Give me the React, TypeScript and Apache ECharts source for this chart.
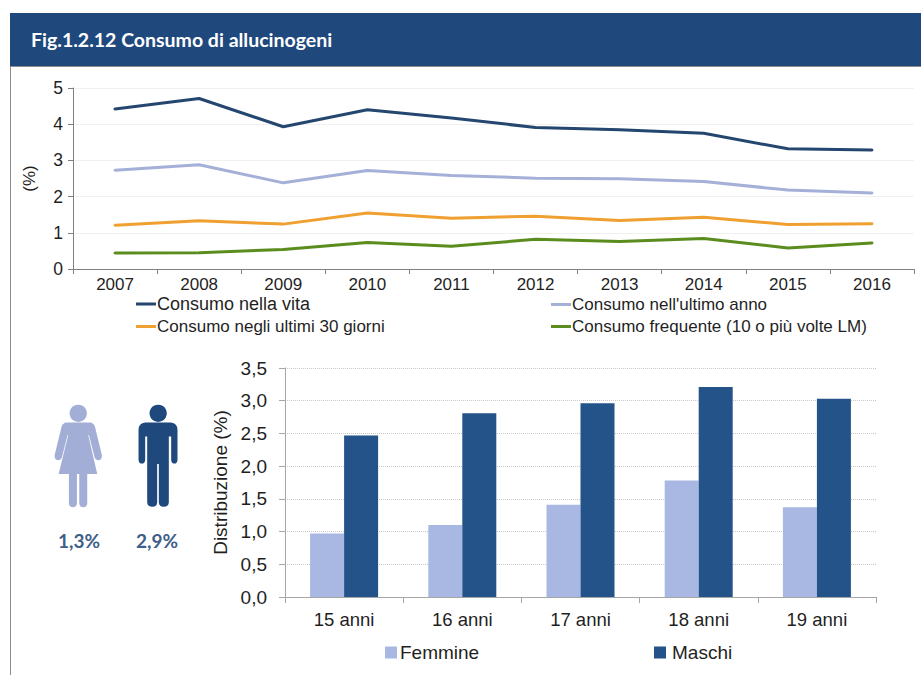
import React, { useEffect, useRef } from "react";
import * as echarts from "echarts";

const years = ["2007", "2008", "2009", "2010", "2011", "2012", "2013", "2014", "2015", "2016"];
const lifetime = [4.42, 4.71, 3.93, 4.4, 4.17, 3.91, 3.85, 3.75, 3.32, 3.29];
const lastYear = [2.73, 2.88, 2.38, 2.72, 2.58, 2.51, 2.49, 2.42, 2.18, 2.1];
const last30 = [1.21, 1.33, 1.24, 1.55, 1.4, 1.46, 1.34, 1.43, 1.23, 1.25];
const frequent = [0.44, 0.45, 0.54, 0.73, 0.63, 0.82, 0.76, 0.84, 0.58, 0.72];
const ages = ["15 anni", "16 anni", "17 anni", "18 anni", "19 anni"];
const females = [0.97, 1.1, 1.41, 1.78, 1.37];
const males = [2.47, 2.81, 2.96, 3.21, 3.03];
const title = "Fig.1.2.12 Consumo di allucinogeni";
const femaleTotal = "1,3%";
const maleTotal = "2,9%";
const lineNames = ["Consumo nella vita", "Consumo nell'ultimo anno", "Consumo negli ultimi 30 giorni", "Consumo frequente (10 o più volte LM)"];
const lineColors = ["#24466F", "#A4B0D8", "#F0A030", "#5B8C1E"];

const FEMALE_D =
  "M 235 74 A 26 26 0 1 1 234.9 74 Z " +
  "M 200 128 L 270 128 Q 281 129 285 140 L 306 226 Q 307 240 296 241 Q 287 241 284 232 L 267 165 L 265 165 L 292 282 L 262 282 L 262 370 Q 261 382 250 382 Q 239 382 238 370 L 238 282 L 231 282 L 231 370 Q 230 382 219 382 Q 208 382 207 370 L 207 282 L 176 282 L 205 165 L 203 165 L 186 232 Q 183 241 174 241 Q 163 240 164 226 L 185 140 Q 189 129 200 128 Z";
const MALE_D =
  "M 475 74 A 26 26 0 1 1 474.9 74 Z " +
  "M 436 128 L 513 128 Q 533 130 533 150 L 533 240 Q 532 251 524 251 Q 515 251 514 240 L 514 170 L 507 170 L 507 368 Q 506 381 491 381 Q 478 381 477 368 L 477 252 L 472 252 L 472 368 Q 471 381 458 381 Q 443 381 442 368 L 442 170 L 436 170 L 436 240 Q 435 251 426 251 Q 417 251 416 240 L 416 150 Q 416 130 436 128 Z";

echarts.graphic.registerShape("womanIcon", (echarts.graphic as any).extendPath(FEMALE_D, {}));
echarts.graphic.registerShape("manIcon", (echarts.graphic as any).extendPath(MALE_D, {}));

const FONT = "'Liberation Sans', Arial, sans-serif";
const TXT = "#1F1F1F";

export default function App() {
  const ref = useRef<HTMLDivElement>(null);
  useEffect(() => {
    document.body.style.margin = "0";
    const chart = echarts.init(ref.current!, undefined, { renderer: "svg" });
    const lineLegend = (i: number, left: number, top: number, fontSize: number) => ({
      data: [lineNames[i]],
      left,
      top,
      orient: "horizontal",
      padding: 0,
      selectedMode: false,
      icon: "rect",
      itemWidth: 20,
      itemHeight: 3,
      textStyle: { fontFamily: FONT, fontSize, color: TXT, padding: [0, 0, 0, -4] },
    });
    const barLegend = (name: string, left: number, textPad: number) => ({
      data: [name],
      left,
      top: 643,
      padding: 0,
      selectedMode: false,
      icon: "rect",
      itemWidth: 12,
      itemHeight: 12,
      itemGap: 0,
      textStyle: { fontFamily: FONT, fontSize: 19, color: TXT, padding: [0, 0, 0, textPad] },
    });
    chart.setOption({
      animation: false,
      backgroundColor: "#ffffff",
      graphic: [
        { type: "rect", shape: { x: 10, y: 13, width: 911, height: 53 }, style: { fill: "#1F497D" } },
        { type: "line", shape: { x1: 10, y1: 66.5, x2: 921, y2: 66.5 }, style: { stroke: "#8C8C8C", lineWidth: 1 } },
        { type: "line", shape: { x1: 10.5, y1: 66, x2: 10.5, y2: 675 }, style: { stroke: "#8C8C8C", lineWidth: 1 } },
        { type: "text", x: 31, y: 39.5, style: { text: title, fill: "#ffffff", font: "bold 19.5px Lato, sans-serif", textVerticalAlign: "middle" } },
        { type: "womanIcon", x: 0, y: 380, scaleX: 1 / 3, scaleY: 1 / 3, style: { fill: "#A3AED6" } },
        { type: "manIcon", x: 0, y: 380, scaleX: 1 / 3, scaleY: 1 / 3, style: { fill: "#1F497D" } },
        { type: "text", x: 79, y: 540, style: { text: femaleTotal, fill: "#3E5F89", font: "bold 19px Lato, sans-serif", textAlign: "center", textVerticalAlign: "middle" } },
        { type: "text", x: 157, y: 540, style: { text: maleTotal, fill: "#3E5F89", font: "bold 19px Lato, sans-serif", textAlign: "center", textVerticalAlign: "middle" } },
      ],
      legend: [
        lineLegend(0, 136, 295, 18),
        lineLegend(1, 551, 296, 17),
        lineLegend(2, 136, 318, 17),
        lineLegend(3, 551, 318, 17),
        barLegend("Femmine", 385, -2),
        barLegend("Maschi", 654, 1),
      ],
      grid: [
        { left: 73, top: 88, width: 841, height: 181, containLabel: false },
        { left: 285, top: 368, width: 591, height: 229, containLabel: false },
      ],
      xAxis: [
        {
          type: "category",
          gridIndex: 0,
          data: years,
          axisLine: { lineStyle: { color: "#808080", width: 1 } },
          axisTick: { show: true, length: 5, lineStyle: { color: "#808080" } },
          axisLabel: { fontFamily: FONT, fontSize: 17, color: TXT, margin: 7 },
        },
        {
          type: "category",
          gridIndex: 1,
          data: ages,
          axisLine: { lineStyle: { color: "#A6A6A6", width: 1 } },
          axisTick: { show: true, length: 6, lineStyle: { color: "#A6A6A6" } },
          axisLabel: { fontFamily: FONT, fontSize: 18.5, color: TXT, margin: 13 },
        },
      ],
      yAxis: [
        {
          type: "value",
          gridIndex: 0,
          min: 0,
          max: 5,
          interval: 1,
          name: "(%)",
          nameLocation: "middle",
          nameGap: 35,
          nameTextStyle: { fontFamily: FONT, fontSize: 17, color: TXT },
          axisLine: { show: true, lineStyle: { color: "#808080" } },
          axisTick: { show: true, length: 5, lineStyle: { color: "#808080" } },
          axisLabel: { fontFamily: FONT, fontSize: 17.5, color: TXT, margin: 10 },
          splitLine: { show: true, lineStyle: { color: "#F0F0F0", width: 1 } },
        },
        {
          type: "value",
          gridIndex: 1,
          min: 0,
          max: 3.5,
          interval: 0.5,
          name: "Distribuzione (%)",
          nameLocation: "middle",
          nameGap: 55,
          nameTextStyle: { fontFamily: FONT, fontSize: 19, color: TXT },
          axisLine: { show: true, lineStyle: { color: "#A6A6A6" } },
          axisTick: { show: true, length: 6, lineStyle: { color: "#A6A6A6" } },
          axisLabel: {
            fontFamily: FONT,
            fontSize: 19,
            color: TXT,
            margin: 18,
            formatter: (v: number) => v.toFixed(1).replace(".", ","),
          },
          splitLine: { show: true, lineStyle: { color: "#C8C8C8", width: 1, type: "dotted" } },
        },
      ],
      series: [
        ...[lifetime, lastYear, last30, frequent].map((data, i) => ({
          type: "line",
          name: lineNames[i],
          xAxisIndex: 0,
          yAxisIndex: 0,
          data,
          symbol: "none",
          lineStyle: { color: lineColors[i], width: 3, cap: "round" },
          itemStyle: { color: lineColors[i] },
        })),
        { type: "bar", name: "Femmine", xAxisIndex: 1, yAxisIndex: 1, data: females, barWidth: 34, barGap: 0, itemStyle: { color: "#A9B8E3" } },
        { type: "bar", name: "Maschi", xAxisIndex: 1, yAxisIndex: 1, data: males, barWidth: 34, barGap: 0, itemStyle: { color: "#24538A" } },
      ],
    });
    return () => chart.dispose();
  }, []);
  return <div ref={ref} style={{ width: 921, height: 675 }} />;
}
